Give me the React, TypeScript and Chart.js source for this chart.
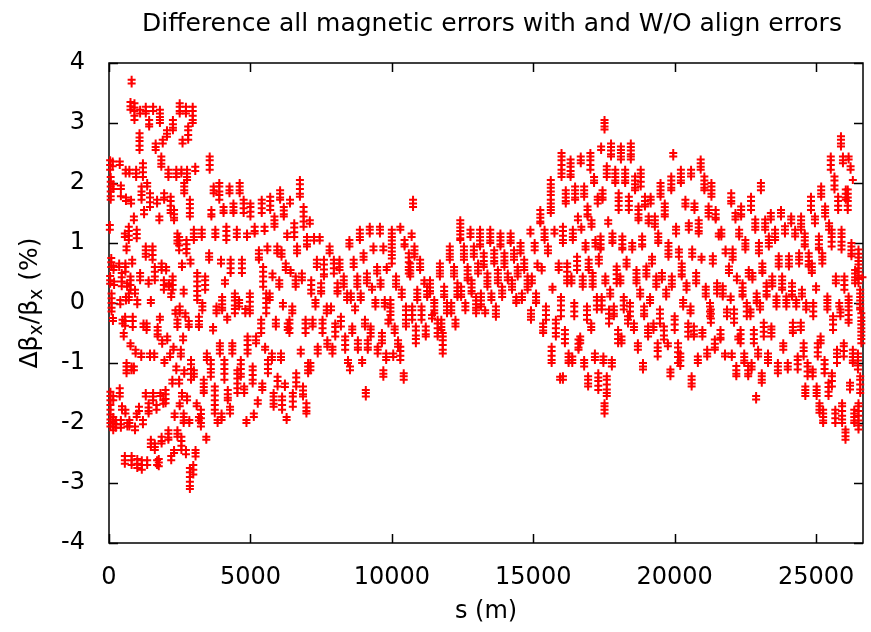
import React, { useEffect, useRef } from "react";
import { Chart, registerables } from "chart.js";

Chart.register(...registerables);

const TITLE = "Difference all magnetic errors with and W/O align errors";
const X_LABEL = "s (m)";
const X_TICKS = [0, 5000, 10000, 15000, 20000, 25000];
const Y_TICKS = [-4, -3, -2, -1, 0, 1, 2, 3, 4];
const X_MAX = 26659;

// Each entry: [s (m), then the Δβx/βx (%) values of one vertical stack of points at that s]
const segA: number[][] = [
  [40, 2.38, 2.3, 2.22], [60, 2.1, 2.02, 1.94, 1.86, 1.78, 1.72], [30, 1.3, 1.22], [80, 0.75, 0.68, 0.6],
  [40, 0.45, 0.38, 0.32], [90, 0.16, 0.08, 0.0, -0.08, -0.14], [130, 2.36, 2.28], [150, 1.98, 1.9],
  [160, 0.62, 0.55], [180, 0.36, 0.3], [140, -0.25, -0.3],
  [50, -1.48, -1.55, -1.62, -1.7, -1.78, -1.86, -1.94, -2.0, -2.06], [150, -1.55, -1.62, -1.9, -1.98, -2.06, -2.12],
  [240, -1.95, -2.02, -2.08],
  [380, 2.36, 2.3], [420, 1.96, 1.9, 1.78], [360, 0.66, 0.6], [450, 0.5, 0.43, 0.36, 0.28], [400, 0.05, -0.02],
  [480, -0.28, -0.34], [520, -0.5, -0.56], [380, -1.42, -1.5, -1.56], [460, -1.72, -1.78], [420, -1.95, -2.02, -2.08],
  [590, 2.22, 2.16], [600, 1.76, 1.7], [560, 1.16, 1.1], [620, 0.94, 0.88], [580, 0.66, 0.6, 0.52], [640, 0.33, 0.27],
  [600, 0.1, 0.04], [570, -0.23, -0.3, -0.38], [620, -1.0, -1.06, -1.12, -1.17], [580, -1.78, -1.84], [650, -2.0, -2.06],
  [560, -2.55, -2.62, -2.68],
  [800, 3.72, 3.66], [760, 3.35, 3.28, 3.22], [720, 2.22, 2.16], [780, 1.72, 1.66], [700, 1.27, 1.2, 1.12, 1.05],
  [820, 0.72, 0.66], [760, 0.44, 0.38, 0.3, 0.22], [700, 0.16, 0.1, 0.05], [840, -0.23, -0.3, -0.4], [760, -0.67, -0.72],
  [800, -1.06, -1.12], [720, -1.95, -2.0, -2.06], [800, -2.55, -2.62, -2.7],
  [900, 3.33, 3.26, 3.2, 3.12, 3.05], [960, 2.22, 2.16, 2.1], [880, 1.44, 1.38], [980, 1.22, 1.15, 1.08], [920, 0.22, 0.16],
  [1000, 0.05, -0.02], [940, -0.78, -0.84], [880, -1.06, -1.12], [980, -1.84, -1.9], [920, -2.06, -2.12],
  [1000, -2.6, -2.68, -2.75],
  [1100, 3.22, 3.16], [1080, 2.83, 2.76, 2.7, 2.62, 2.55], [1200, 2.33, 2.26, 2.18, 2.1], [1150, 1.94, 1.86, 1.8, 1.72],
  [1240, 1.55, 1.48], [1100, 0.5, 0.44, 0.38], [1220, -0.34, -0.4], [1140, -0.84, -0.9], [1060, -1.73, -1.8],
  [1200, -1.95, -2.02], [1160, -2.62, -2.7, -2.78],
  [1300, 3.27, 3.2, 3.16], [1420, 3.05, 2.98, 2.94], [1350, 2.0, 1.94], [1450, 1.83, 1.76, 1.68, 1.6],
  [1300, 0.94, 0.88, 0.82, 0.77], [1400, 0.38, 0.32], [1480, 0.05, 0.0], [1330, -0.34, -0.4, -0.45], [1450, -0.84, -0.9],
  [1300, -1.5, -1.56], [1400, -1.67, -1.74, -1.8, -1.84], [1480, -2.28, -2.34, -2.4], [1350, -2.62, -2.7],
  [1560, 3.27, 3.2], [1650, 2.66, 2.6, 2.55], [1700, 1.72, 1.66], [1540, 0.94, 0.88, 0.8, 0.72], [1620, 0.6, 0.52, 0.44, 0.38],
  [1720, -0.4, -0.46, -0.52, -0.56], [1600, -0.84, -0.9], [1560, -1.5, -1.56, -1.62], [1680, -1.7, -1.78],
  [1620, -2.34, -2.4, -2.45], [1700, -2.62, -2.7],
  [1800, 3.22, 3.16, 3.1, 3.05, 3.0], [1900, 2.72, 2.66], [1850, 2.44, 2.38, 2.32, 2.27], [1950, 1.83, 1.76, 1.72],
  [1780, 1.44, 1.38], [1860, 0.66, 0.6, 0.55], [1940, 0.38, 0.3, 0.22], [1800, -0.23, -0.28], [1880, -0.62, -0.68],
  [1960, -0.95, -1.0], [1820, -1.5, -1.55], [1920, -1.62, -1.68], [1860, -2.23, -2.3, -2.34], [1760, -2.6, -2.66, -2.72],
  [2050, 2.88, 2.82, 2.77], [2100, 2.22, 2.16, 2.1], [2180, 1.77, 1.7, 1.62, 1.55, 1.5], [2020, 0.6, 0.54], [2120, 0.33, 0.27],
  [2200, 0.16, 0.1], [2060, -0.56, -0.62], [2160, -0.84, -0.9], [2000, -1.45, -1.52, -1.6, -1.67],
  [2100, -2.12, -2.18, -2.24, -2.28], [2200, -2.55, -2.62],
  [2260, 3.05, 2.98, 2.92, 2.88], [2380, 2.22, 2.16, 2.1], [2300, 1.55, 1.48, 1.42, 1.38], [2420, 1.16, 1.1, 1.04, 0.99],
  [2250, 0.44, 0.38, 0.3, 0.22], [2350, -0.12, -0.18], [2420, -0.28, -0.34, -0.4], [2280, -0.73, -0.78], [2380, -1.06, -1.12],
  [2240, -1.28, -1.34], [2320, -1.84, -1.9], [2420, -2.12, -2.18, -2.23], [2300, -2.45, -2.5],
  [2500, 3.33, 3.27, 3.2, 3.16], [2600, 2.72, 2.66], [2560, 2.22, 2.16], [2660, 2.0, 1.94, 1.88, 1.83],
  [2480, 1.1, 1.04, 0.96, 0.88], [2580, 0.66, 0.6], [2640, 0.22, 0.16], [2500, -0.06, -0.12, -0.17], [2620, -0.56, -0.62],
  [2540, -0.78, -0.84, -0.89], [2660, -1.12, -1.18], [2480, -1.28, -1.34], [2580, -1.5, -1.56], [2500, -1.67, -1.72],
  [2640, -1.84, -1.9, -1.96, -2.0], [2560, -2.23, -2.3, -2.38, -2.45],
  [2720, 3.27, 3.2, 3.16], [2800, 2.94, 2.88, 2.8, 2.72], [2760, 2.22, 2.16, 2.1, 2.05], [2860, 1.72, 1.65, 1.58, 1.5, 1.44],
  [2740, 1.05, 0.98, 0.9, 0.83], [2880, 0.72, 0.66], [2700, -0.17, -0.23], [2820, -0.3, -0.36, -0.4],
  [2900, -0.95, -1.02, -1.1, -1.18, -1.28], [2760, -1.56, -1.62], [2840, -1.95, -2.0], [2720, -2.45, -2.52],
  [2860, -2.75, -2.82, -2.9, -2.98, -3.05, -3.1],
  [2960, 3.27, 3.2, 3.12, 3.05, 3.0], [3050, 2.27, 2.2], [3000, 1.22, 1.16, 1.1, 1.05],
  [3120, 0.5, 0.44, 0.36, 0.28, 0.2, 0.12, 0.05], [3180, -0.23, -0.3, -0.36, -0.4], [3000, -1.12, -1.18, -1.23],
  [3100, -1.67, -1.72], [3180, -1.9, -1.96], [3060, -2.45, -2.5, -2.56], [2980, -2.7, -2.78, -2.86],
  [3280, 1.22, 1.16, 1.1], [3400, 0.44, 0.38, 0.3, 0.22], [3300, 0.0, -0.06, -0.12], [3460, -0.84, -0.9, -0.95],
  [3350, -1.28, -1.34, -1.4, -1.46, -1.5], [3250, -1.78, -1.85, -1.92, -2.0, -2.06], [3440, -2.23, -2.28],
  [3560, 2.44, 2.38, 2.3, 2.22], [3700, 1.94, 1.88, 1.83], [3620, 1.55, 1.48, 1.44], [3760, 1.22, 1.16, 1.1],
  [3540, 0.83, 0.77, 0.72], [3800, -0.06, -0.12, -0.17], [3680, -0.4, -0.46], [3600, -0.95, -1.02, -1.1, -1.16, -1.23],
  [3740, -1.39, -1.46, -1.54, -1.62, -1.7, -1.78, -1.84], [3840, -1.95, -2.0],
  [3900, 2.0, 1.94, 1.86, 1.8, 1.72], [4050, 1.6, 1.54, 1.5], [4150, 1.27, 1.2, 1.12, 1.05], [3960, 0.72, 0.66],
  [4100, 0.38, 0.32], [4000, 0.1, 0.04, -0.02, -0.08, -0.12], [4180, -0.23, -0.28], [3920, -0.67, -0.72, -0.78, -0.84],
  [4080, -0.95, -1.02, -1.1, -1.18, -1.28], [4200, -1.45, -1.52, -1.58, -1.62], [3980, -1.84, -1.9, -1.95],
  [4260, 1.94, 1.88, 1.83], [4400, 1.66, 1.6, 1.54, 1.5], [4520, 1.22, 1.16, 1.1], [4300, 0.72, 0.66, 0.58, 0.5],
  [4450, 0.16, 0.1, 0.04, -0.04, -0.1, -0.17], [4360, -0.67, -0.72, -0.78, -0.84],
  [4540, -1.12, -1.18, -1.26, -1.34, -1.42, -1.5], [4280, -1.73, -1.78, -1.84],
  [4620, 2.0, 1.94, 1.88, 1.83], [4760, 1.72, 1.66, 1.58, 1.5], [4880, 1.16, 1.1], [4700, 0.72, 0.66, 0.58, 0.5],
  [4600, 0.05, 0.0, -0.06], [4820, -0.1, -0.17], [4900, -0.56, -0.62, -0.7, -0.78, -0.84],
  [4660, -0.95, -1.02, -1.1, -1.18, -1.23], [4780, -1.39, -1.44, -1.5], [4860, -1.95, -2.0],
  [5000, 1.66, 1.6, 1.52, 1.44], [5150, 1.27, 1.2, 1.16], [5300, 0.88, 0.82, 0.76, 0.72],
  [4980, 0.16, 0.1, 0.02, -0.06, -0.12, -0.17], [5200, -0.56, -0.62, -0.67], [5080, -1.06, -1.12, -1.2, -1.28, -1.34],
  [5260, -1.62, -1.68], [5120, -1.84, -1.9],
];

const segB: number[][] = [
  [5400, 1.72, 1.66, 1.58, 1.5], [5500, 1.27, 1.2], [5600, 0.94, 0.88], [5450, 0.6, 0.52, 0.44, 0.36, 0.27],
  [5560, 0.16, 0.08, 0.0, -0.08, -0.17], [5380, -0.28, -0.34, -0.42, -0.5], [5520, -0.73, -0.78],
  [5620, -0.95, -1.02, -1.1, -1.17], [5420, -1.34, -1.4, -1.45],
  [5700, 1.77, 1.7, 1.62, 1.55], [5850, 1.44, 1.38, 1.32, 1.27], [5950, 0.94, 0.88, 0.83], [5780, 0.49, 0.43],
  [5680, 0.16, 0.1, 0.05], [5900, -0.28, -0.34, -0.39], [5760, -0.84, -0.9, -0.95], [5960, -1.23, -1.3, -1.39],
  [5820, -1.5, -1.56, -1.62, -1.68, -1.73],
  [6050, 1.88, 1.82, 1.76, 1.72], [6180, 1.6, 1.54, 1.48, 1.44], [6300, 1.16, 1.1], [6100, 0.88, 0.82, 0.77],
  [6250, 0.66, 0.6, 0.55], [6020, 0.38, 0.32, 0.27], [6150, 0.0, -0.06], [6320, -0.34, -0.4, -0.45],
  [6080, -0.84, -0.9, -0.95], [6220, -1.34, -1.4], [6120, -1.56, -1.62, -1.7, -1.78], [6280, -1.9, -1.95],
  [6400, 1.72, 1.66], [6550, 1.33, 1.26, 1.18, 1.1], [6650, 0.94, 0.88, 0.83], [6420, 0.55, 0.5],
  [6600, 0.44, 0.38, 0.32, 0.27], [6480, -0.06, -0.12, -0.17], [6380, -0.28, -0.34, -0.42, -0.5],
  [6620, -1.17, -1.24, -1.32, -1.39], [6500, -1.5, -1.56, -1.64, -1.73],
  [6750, 2.05, 1.98, 1.9, 1.82, 1.77], [6880, 1.6, 1.52, 1.44, 1.36, 1.27], [7000, 1.1, 1.04, 0.98, 0.94],
  [6820, 0.49, 0.43, 0.38], [6950, -0.28, -0.34, -0.42, -0.5], [6780, -0.78, -0.84], [7040, -1.0, -1.06, -1.12, -1.17],
  [6860, -1.39, -1.46, -1.52, -1.56], [6980, -1.67, -1.74, -1.8, -1.84],
  [7100, 1.38, 1.32], [7250, 1.1, 1.04], [7350, 0.72, 0.66, 0.6], [7150, 0.38, 0.3, 0.22, 0.16], [7300, 0.05, 0.0, -0.06],
  [7200, -0.28, -0.34, -0.39], [7380, -0.73, -0.78, -0.84], [7120, -1.0, -1.06, -1.12],
  [7450, 1.1, 1.04], [7600, 0.72, 0.64, 0.56, 0.48, 0.44], [7500, 0.33, 0.26, 0.2, 0.16], [7700, -0.06, -0.12, -0.17],
  [7550, -0.28, -0.34, -0.42, -0.5], [7720, -0.62, -0.68, -0.73],
  [7800, 0.94, 0.88, 0.83], [7950, 0.72, 0.66, 0.58, 0.49], [8080, 0.33, 0.26, 0.2, 0.16], [7850, -0.06, -0.12],
  [8000, -0.34, -0.4, -0.48, -0.56], [7900, -0.73, -0.78, -0.84],
  [8150, 0.72, 0.66, 0.6, 0.55], [8300, 0.44, 0.38, 0.32, 0.27], [8420, 0.16, 0.1, 0.05], [8200, -0.23, -0.3, -0.39],
  [8350, -0.56, -0.62, -0.7, -0.78], [8450, -0.95, -1.0],
  [8500, 1.05, 0.99, 0.94], [8650, 0.72, 0.66, 0.6], [8780, 0.44, 0.38, 0.32, 0.27], [8550, 0.16, 0.1, 0.05],
  [8700, -0.06, -0.12], [8600, -0.39, -0.44, -0.5], [8800, -0.62, -0.68, -0.74, -0.78], [8520, -1.06, -1.12],
  [8870, 1.22, 1.16, 1.1, 1.05], [9000, 0.83, 0.77, 0.72], [9120, 0.49, 0.43, 0.38, 0.33], [8900, 0.16, 0.1, 0.05],
  [9050, -0.28, -0.34, -0.39], [9150, -0.62, -0.68, -0.74, -0.78], [8950, -0.95, -1.0], [9080, -1.45, -1.5, -1.56],
  [9220, 1.27, 1.22, 1.16], [9350, 0.94, 0.88], [9480, 0.6, 0.54, 0.49], [9300, 0.27, 0.22], [9420, 0.05, 0.0, -0.06],
  [9250, -0.39, -0.44, -0.5, -0.56], [9500, -0.73, -0.78, -0.84],
  [9580, 1.27, 1.22, 1.16], [9700, 0.94, 0.88], [9820, 0.6, 0.55], [9600, 0.38, 0.32, 0.27], [9750, 0.05, 0.0, -0.06],
  [9880, -0.28, -0.34], [9650, -0.5, -0.56, -0.62, -0.67], [9800, -0.84, -0.9, -0.95], [9700, -1.12, -1.18, -1.23],
  [10000, 1.22, 1.16, 1.1, 1.04, 0.98, 0.92, 0.86, 0.8, 0.74, 0.66], [10150, 0.44, 0.38, 0.32, 0.27],
  [9950, 0.05, -0.02, -0.08, -0.14, -0.2, -0.28], [10100, -0.39, -0.44, -0.5], [10220, -0.62, -0.68, -0.73],
  [10050, -0.84, -0.9],
  [10300, 1.27, 1.22], [10450, 1.05, 0.98, 0.94], [10600, 0.83, 0.76, 0.68, 0.6, 0.55, 0.49], [10350, 0.22, 0.16, 0.1],
  [10500, -0.06, -0.12, -0.2, -0.28, -0.34, -0.39], [10300, -0.73, -0.8, -0.88, -0.95], [10420, -1.17, -1.22, -1.28],
];

const segC: number[][] = [
  [10750, 1.72, 1.66, 1.6], [10700, 1.16, 1.1], [10800, 0.94, 0.88, 0.82, 0.77], [10650, 0.66, 0.6, 0.54, 0.49, 0.44],
  [10900, 0.22, 0.16, 0.1, 0.05], [10720, -0.06, -0.12, -0.2, -0.28], [10850, -0.39, -0.46, -0.54, -0.6, -0.67],
  [11000, 0.72, 0.66, 0.6, 0.55], [11150, 0.38, 0.32], [11250, 0.27, 0.2, 0.14, 0.1], [11050, -0.06, -0.12, -0.2, -0.28],
  [11200, -0.39, -0.46, -0.52, -0.56],
  [11350, 0.38, 0.32, 0.26, 0.2, 0.16], [11500, 0.05, 0.0, -0.06, -0.12, -0.17], [11620, -0.28, -0.34, -0.42, -0.5, -0.56],
  [11420, -0.2, -0.26],
  [11700, 0.66, 0.6, 0.54, 0.49, 0.44], [11850, 0.27, 0.2, 0.14, 0.1], [11950, 0.0, -0.06, -0.12, -0.17],
  [11750, -0.28, -0.34, -0.4, -0.45], [11800, -0.5, -0.56, -0.62, -0.7, -0.78, -0.84],
  [12050, 0.94, 0.88, 0.82, 0.77, 0.72], [12200, 0.6, 0.54, 0.49, 0.44], [12320, 0.33, 0.26, 0.2, 0.14, 0.1],
  [12100, 0.0, -0.06, -0.12, -0.17], [12250, -0.28, -0.34, -0.39],
  [12420, 1.38, 1.32, 1.26, 1.2, 1.14, 1.08, 1.05], [12550, 0.94, 0.88, 0.82, 0.77, 0.72], [12680, 0.6, 0.54, 0.48, 0.42, 0.38],
  [12450, 0.27, 0.2, 0.14, 0.1], [12600, 0.0, -0.06, -0.12],
  [12780, 1.22, 1.16, 1.1], [12900, 0.94, 0.88, 0.82, 0.77], [13050, 0.66, 0.6, 0.54, 0.49], [12820, 0.38, 0.32, 0.26, 0.2, 0.16],
  [12980, 0.1, 0.04, -0.02, -0.08, -0.12, -0.17],
  [13120, 1.22, 1.16, 1.1, 1.04, 0.98, 0.94], [13250, 0.83, 0.77, 0.7, 0.64, 0.6], [13380, 0.49, 0.43, 0.37, 0.32, 0.27],
  [13150, 0.16, 0.1, 0.04, -0.02, -0.06], [13300, -0.17, -0.12],
  [13480, 1.22, 1.16, 1.1, 1.04, 1.0], [13620, 0.88, 0.82, 0.76, 0.7, 0.66], [13750, 0.55, 0.49, 0.43, 0.38, 0.33],
  [13520, 0.16, 0.1, 0.05], [13680, -0.06, -0.12, -0.18, -0.23],
  [13840, 1.16, 1.1, 1.04, 0.98, 0.94], [13980, 0.83, 0.77, 0.71, 0.66, 0.6], [14100, 0.49, 0.43, 0.38], [13900, 0.27, 0.21, 0.16, 0.1],
  [14200, 1.16, 1.1, 1.04, 1.0], [14320, 0.88, 0.82, 0.77, 0.72], [14450, 0.6, 0.54, 0.49, 0.44], [14250, 0.38, 0.32, 0.27, 0.22],
  [14400, 0.1, 0.04, 0.0],
  [14550, 1.0, 0.94, 0.88, 0.83], [14680, 0.72, 0.66, 0.6, 0.55], [14800, 0.44, 0.38, 0.32, 0.27, 0.22], [14600, 0.16, 0.1, 0.05],
  [14900, 1.22, 1.16], [15050, 1.0, 0.94, 0.88], [15150, 0.66, 0.6], [14950, 0.44, 0.38, 0.33], [15100, 0.16, 0.1, 0.04, 0.0],
  [14920, -0.12, -0.18, -0.23, -0.28],
  [15250, 1.55, 1.48, 1.42, 1.36, 1.33], [15400, 1.22, 1.16, 1.1, 1.05], [15520, 0.94, 0.88, 0.83], [15300, 0.6, 0.54],
  [15450, -0.06, -0.12, -0.2, -0.28], [15350, -0.34, -0.4, -0.46, -0.5],
  [15620, 2.05, 1.98, 1.92, 1.86, 1.8, 1.72, 1.66, 1.6, 1.55, 1.5], [15750, 1.22, 1.16], [15900, 0.66, 0.6, 0.55],
  [15680, 0.27, 0.22], [15800, -0.28, -0.34, -0.42, -0.5, -0.56], [15650, -0.73, -0.8, -0.88, -0.95, -1.0], [15950, -1.23, -1.28],
];

const segD: number[][] = [
  [16000, 2.5, 2.44, 2.38, 2.3, 2.22, 2.16, 2.1], [16150, 1.88, 1.82, 1.76, 1.7, 1.66], [16050, 1.27, 1.2, 1.12, 1.05, 1.0],
  [16200, 0.66, 0.6, 0.52, 0.44, 0.38, 0.33], [15980, 0.1, 0.04, -0.04, -0.12, -0.22], [16120, -0.45, -0.52, -0.6, -0.67],
  [16250, -0.84, -0.9, -0.96, -1.0], [16050, -1.22, -1.28],
  [16320, 2.39, 2.33, 2.27, 2.2, 2.14, 2.1], [16480, 1.94, 1.88, 1.82, 1.76, 1.72], [16580, 1.44, 1.38],
  [16400, 1.22, 1.16, 1.1, 1.05], [16550, 0.77, 0.7, 0.62, 0.55], [16350, 0.44, 0.38, 0.33], [16450, 0.0, -0.06, -0.14, -0.22],
  [16600, -0.61, -0.68, -0.74, -0.78], [16380, -0.89, -0.95, -1.0],
  [16680, 2.44, 2.38, 2.33], [16800, 1.94, 1.88, 1.82, 1.77], [16920, 1.61, 1.55, 1.48, 1.44], [16700, 1.27, 1.22],
  [16850, 1.0, 0.94, 0.89], [16960, 0.72, 0.66, 0.6, 0.55], [16750, 0.44, 0.38, 0.32, 0.27], [16900, -0.06, -0.12, -0.2, -0.28],
  [16660, -0.56, -0.62, -0.67], [16800, -0.95, -1.0, -1.06], [16940, -1.22, -1.28, -1.34, -1.39],
  [17020, 2.5, 2.44, 2.38, 2.3, 2.22], [17150, 2.1, 2.04, 2.0], [17280, 1.77, 1.72, 1.66], [17060, 1.38, 1.32, 1.27],
  [17200, 1.05, 1.0, 0.94], [17320, 0.77, 0.72, 0.66], [17100, 0.5, 0.44, 0.38, 0.32, 0.27], [17250, 0.1, 0.04, -0.04, -0.11],
  [17050, -0.34, -0.4, -0.45], [17180, -0.84, -0.9, -0.95], [17300, -1.17, -1.24, -1.3, -1.38, -1.45],
  [17520, 3.05, 3.0, 2.94, 2.89], [17400, 2.61, 2.55], [17600, 2.28, 2.22, 2.16, 2.1], [17450, 1.88, 1.82, 1.76, 1.72],
  [17650, 1.38, 1.32], [17380, 1.11, 1.05, 0.98, 0.92, 0.89], [17550, 0.44, 0.38, 0.33], [17420, 0.1, 0.04, -0.04, -0.11],
  [17680, -0.11, -0.18, -0.26, -0.34], [17480, -0.89, -0.95, -1.0], [17600, -1.22, -1.28, -1.36, -1.44, -1.5, -1.55],
  [17520, -1.67, -1.72, -1.78, -1.84],
  [17750, 2.66, 2.6, 2.54, 2.48, 2.44], [17900, 2.22, 2.16, 2.1, 2.04, 2.0], [18020, 1.83, 1.76, 1.7, 1.62, 1.55],
  [17800, 1.16, 1.1, 1.04, 1.0], [17950, 0.61, 0.55, 0.48, 0.4, 0.33], [17720, 0.22, 0.16, 0.11],
  [17850, -0.06, -0.12, -0.18, -0.22], [18000, -0.45, -0.52, -0.6, -0.67], [17780, -0.95, -1.0, -1.06],
  [18100, 2.61, 2.55, 2.5, 2.44, 2.39], [18250, 2.22, 2.16, 2.1, 2.04, 2.0], [18380, 1.77, 1.7, 1.62, 1.55],
  [18150, 1.11, 1.05, 0.98, 0.92, 0.89], [18300, 0.72, 0.66, 0.61], [18080, 0.44, 0.38, 0.33], [18200, 0.1, 0.04, -0.04, -0.11],
  [18350, -0.22, -0.28, -0.34], [18120, -0.56, -0.62, -0.67],
  [18450, 2.66, 2.6, 2.54, 2.48, 2.44, 2.39], [18600, 2.11, 2.04, 1.98, 1.92, 1.88], [18720, 1.61, 1.55, 1.48, 1.42, 1.38],
  [18500, 1.0, 0.94, 0.89], [18650, 0.55, 0.49, 0.43, 0.38, 0.33], [18420, 0.0, -0.06, -0.14, -0.22], [18560, -0.34, -0.4, -0.45],
  [18700, -0.67, -0.72, -0.78],
  [18800, 2.22, 2.16, 2.1, 2.02, 1.94], [18950, 1.77, 1.7, 1.64, 1.61], [19080, 1.44, 1.38, 1.33], [18850, 1.11, 1.05, 0.98, 0.94],
  [19000, 0.61, 0.55, 0.49, 0.44], [18780, 0.22, 0.16, 0.11], [18920, -0.06, -0.12, -0.18, -0.22],
  [19060, -0.39, -0.45, -0.5, -0.56], [18880, -1.0, -1.06, -1.11],
  [19150, 1.77, 1.72, 1.66], [19300, 1.44, 1.38, 1.32, 1.27], [19420, 1.16, 1.1, 1.04, 1.0], [19200, 0.77, 0.72, 0.66],
  [19350, 0.44, 0.38, 0.32, 0.27], [19130, 0.1, 0.05, 0.0], [19250, -0.34, -0.4, -0.45], [19400, -0.67, -0.74, -0.8, -0.89],
  [19500, 2.0, 1.94, 1.88, 1.82, 1.77], [19650, 1.66, 1.6, 1.54, 1.48, 1.44], [19780, 1.0, 0.94, 0.88, 0.82, 0.77],
  [19550, 0.5, 0.44, 0.39], [19700, 0.22, 0.16, 0.11], [19480, -0.11, -0.18, -0.26, -0.34], [19620, -0.39, -0.46, -0.54, -0.61],
  [19760, -0.67, -0.72],
  [19950, 2.5, 2.44], [19880, 2.11, 2.04, 1.98, 1.92, 1.88], [20050, 1.27, 1.22, 1.16], [20150, 0.89, 0.84, 0.77],
  [19900, 0.44, 0.38, 0.32, 0.27], [20000, -0.22, -0.28, -0.36, -0.45], [20120, -0.67, -0.74, -0.82, -0.9, -1.0],
  [19850, -1.11, -1.16, -1.22],
  [20220, 2.22, 2.16, 2.1, 2.04, 2.0], [20380, 1.72, 1.66, 1.61], [20500, 1.33, 1.28, 1.22], [20250, 0.66, 0.6, 0.54, 0.48, 0.44],
  [20420, 0.33, 0.28, 0.22], [20300, 0.05, 0.0, -0.06], [20480, -0.34, -0.4, -0.48, -0.56], [20200, -0.84, -0.9, -0.96, -1.05],
  [20580, 2.22, 2.16, 2.11], [20700, 1.66, 1.6, 1.55], [20850, 1.38, 1.32, 1.26, 1.2, 1.16], [20620, 0.89, 0.83, 0.77],
  [20760, 0.5, 0.44, 0.38, 0.33], [20560, -0.06, -0.12, -0.17], [20680, -0.39, -0.46, -0.52, -0.56], [20820, -0.89, -0.95, -1.0],
  [20600, -1.22, -1.28, -1.34, -1.39],
  [20920, 2.39, 2.33, 2.27, 2.22], [21050, 2.11, 2.04, 1.98, 1.92, 1.88], [21200, 1.61, 1.55, 1.5, 1.44], [20950, 0.77, 0.72],
  [21100, 0.27, 0.22, 0.16, 0.11], [21250, 0.0, -0.06, -0.14, -0.22], [20980, -0.45, -0.5, -0.56], [21150, -0.78, -0.84, -0.89],
];

const segE: number[][] = [
  [21300, 2.0, 1.94, 1.88, 1.82, 1.77], [21450, 1.55, 1.48, 1.42, 1.39], [21560, 1.16, 1.11], [21350, 0.78, 0.72, 0.66],
  [21500, 0.33, 0.27, 0.22, 0.16], [21280, -0.11, -0.18, -0.26, -0.33], [21420, -0.61, -0.68, -0.74, -0.78],
  [21650, 1.22, 1.16, 1.11], [21800, 0.89, 0.83], [21920, 0.61, 0.55, 0.5], [21700, 0.28, 0.22, 0.16, 0.11],
  [21850, -0.11, -0.16, -0.22], [21620, -0.45, -0.52, -0.58, -0.61], [21780, -0.84, -0.89],
  [22000, 1.83, 1.76, 1.7, 1.66], [22150, 1.5, 1.44, 1.39], [22280, 1.22, 1.16, 1.11], [22050, 0.89, 0.83, 0.77, 0.72],
  [22200, 0.44, 0.38], [21980, 0.11, 0.05], [22100, -0.11, -0.18, -0.26, -0.33], [22250, -0.56, -0.61], [22020, -0.84, -0.9],
  [22180, -1.05, -1.12, -1.18, -1.22],
  [22350, 1.61, 1.55, 1.48, 1.44], [22500, 1.05, 0.99, 0.94, 0.89], [22620, 0.55, 0.5, 0.44], [22400, 0.33, 0.26, 0.2, 0.14, 0.11],
  [22550, 0.0, -0.06, -0.14, -0.22], [22330, -0.45, -0.52, -0.6, -0.67], [22460, -0.84, -0.9, -0.96, -1.0],
  [22600, -1.05, -1.12, -1.18, -1.22],
  [22700, 1.77, 1.7, 1.62, 1.55], [22850, 1.39, 1.33, 1.27, 1.22], [22980, 1.0, 0.94, 0.88, 0.83], [22750, 0.5, 0.44, 0.39],
  [22900, 0.16, 0.1, 0.04, 0.0], [22680, -0.11, -0.16, -0.22], [22800, -0.45, -0.52, -0.6, -0.67], [22950, -0.78, -0.84, -0.89],
  [22720, -1.0, -1.06, -1.11], [22880, -1.55, -1.61],
  [23050, 2.0, 1.94, 1.88], [23200, 1.39, 1.33, 1.27, 1.22], [23330, 1.11, 1.05, 1.0, 0.94], [23100, 0.66, 0.6, 0.54, 0.5],
  [23250, 0.33, 0.27, 0.2, 0.14, 0.11], [23020, 0.0, -0.06, -0.11], [23150, -0.33, -0.4, -0.48, -0.56],
  [23300, -0.84, -0.9, -0.95, -1.0], [23080, -1.17, -1.22, -1.28, -1.33],
  [23400, 1.5, 1.44, 1.39], [23550, 1.22, 1.16, 1.1, 1.05], [23680, 0.78, 0.72, 0.66, 0.61], [23450, 0.44, 0.38, 0.33, 0.28],
  [23600, 0.11, 0.05, 0.0, -0.06], [23420, -0.39, -0.44, -0.5, -0.56], [23650, -1.0, -1.06, -1.12, -1.17],
  [23760, 1.55, 1.5, 1.44], [23900, 1.28, 1.22, 1.16], [24040, 0.78, 0.72, 0.66, 0.61], [23800, 0.44, 0.38, 0.32, 0.26, 0.22],
  [23950, 0.11, 0.05, 0.0, -0.06], [23840, -0.67, -0.72, -0.78], [24000, -1.0, -1.06, -1.11],
  [24120, 1.44, 1.39, 1.33], [24260, 1.22, 1.16, 1.11], [24400, 0.83, 0.77, 0.72, 0.66], [24150, 0.33, 0.27, 0.2, 0.14, 0.11],
  [24300, 0.05, 0.0, -0.06], [24180, -0.33, -0.4, -0.46, -0.5], [24350, -0.89, -0.95, -1.02, -1.11],
  [24470, 1.44, 1.38, 1.32, 1.27, 1.22], [24600, 1.16, 1.1, 1.04, 0.98, 0.94], [24740, 0.83, 0.77, 0.7, 0.64, 0.61],
  [24500, 0.22, 0.16, 0.11], [24650, 0.0, -0.06, -0.11], [24460, -0.33, -0.39, -0.45], [24560, -0.67, -0.74, -0.8, -0.89],
  [24700, -1.0, -1.06, -1.14, -1.22], [24620, -1.39, -1.45, -1.5, -1.55],
  [24820, 1.77, 1.7, 1.62, 1.55], [24960, 1.44, 1.39, 1.33], [25100, 1.11, 1.05, 0.98, 0.92, 0.89], [24850, 0.66, 0.6, 0.54, 0.5],
  [25000, 0.28, 0.22], [24900, 0.0, -0.06, -0.14, -0.22], [25060, -0.67, -0.74, -0.82, -0.89], [24880, -1.11, -1.16, -1.22],
  [25020, -1.39, -1.45, -1.5, -1.55], [25120, -1.67, -1.72, -1.78, -1.83],
  [25180, 1.94, 1.88, 1.82, 1.77], [25320, 1.61, 1.55, 1.5, 1.44], [25460, 1.33, 1.28, 1.22], [25220, 0.83, 0.77, 0.72, 0.66],
  [25400, 0.11, 0.05, 0.0, -0.06, -0.11], [25160, -0.56, -0.62, -0.67], [25300, -0.95, -1.02, -1.1, -1.17],
  [25440, -1.33, -1.4, -1.48, -1.55], [25250, -1.78, -1.84, -1.9, -1.96, -2.0],
  [25520, 2.44, 2.38, 2.3, 2.22], [25650, 2.11, 2.04, 1.96, 1.89], [25780, 1.77, 1.7, 1.62, 1.55],
  [25550, 1.22, 1.16, 1.1, 1.02, 0.94], [25700, 0.44, 0.38, 0.33], [25820, 0.0, -0.06], [25600, -0.22, -0.28, -0.36, -0.45],
  [25740, -0.78, -0.84, -0.9, -1.0], [25560, -1.17, -1.22, -1.3, -1.39], [25680, -1.78, -1.84, -1.92, -2.0],
  [25880, 2.78, 2.72, 2.66, 2.61], [25950, 2.44, 2.38, 2.33], [26050, 1.89, 1.82, 1.76, 1.72],
  [25900, 1.22, 1.16, 1.1, 1.02, 0.96, 0.89], [26000, 0.44, 0.38, 0.3, 0.22], [25860, -0.11, -0.16, -0.22],
  [25980, -0.67, -0.72, -0.8, -0.89], [25920, -1.67, -1.72, -1.8, -1.88, -1.94, -2.0], [26040, -2.11, -2.16, -2.22, -2.28],
  [26150, 2.44, 2.39], [26220, 2.28, 2.22], [26300, 2.05], [26120, 1.89, 1.82, 1.76, 1.7, 1.62, 1.55],
  [26250, 1.0, 0.94, 0.88, 0.82, 0.78], [26380, 0.55, 0.49, 0.43, 0.38, 0.33],
  [26150, 0.11, 0.05, 0.0, -0.06, -0.12, -0.2, -0.28, -0.33], [26300, -0.78, -0.84, -0.9, -0.96, -1.0],
  [26200, -1.33, -1.38, -1.44], [26350, -1.78, -1.84, -1.9, -1.96, -2.0],
  [26500, 0.89, 0.82, 0.76, 0.7, 0.64, 0.58, 0.52, 0.46, 0.4, 0.33], [26560, 0.22, 0.16, 0.1, 0.04, -0.02, -0.08, -0.11],
  [26600, -0.17, -0.24, -0.3, -0.36, -0.42, -0.48, -0.54, -0.6, -0.67], [26480, -0.84, -0.9, -0.96, -1.04, -1.11],
  [26560, -1.22, -1.28, -1.36, -1.44, -1.5], [26500, -1.67, -1.72, -1.8, -1.88, -1.96, -2.04, -2.11], [26640, 0.43],
];

const FONT = "'DejaVu Sans', 'Liberation Sans', sans-serif";

function toPoints(...segs: number[][][]) {
  const pts: { x: number; y: number }[] = [];
  segs.forEach((seg) =>
    seg.forEach((col) => {
      for (let i = 1; i < col.length; i++) pts.push({ x: col[0], y: col[i] });
    })
  );
  return pts;
}

const framePlugin = {
  id: "gnuFrame",
  beforeDatasetsDraw(chart: any) {
    const { ctx, chartArea: a, scales } = chart;
    ctx.save();
    ctx.strokeStyle = "#000";
    ctx.lineWidth = 1.5;
    ctx.strokeRect(a.left, a.top, a.right - a.left, a.bottom - a.top);
    const tl = 9;
    ctx.beginPath();
    X_TICKS.forEach((v) => {
      const x = Math.round(scales.x.getPixelForValue(v)) + 0.5;
      ctx.moveTo(x, a.bottom);
      ctx.lineTo(x, a.bottom - tl);
      ctx.moveTo(x, a.top);
      ctx.lineTo(x, a.top + tl);
    });
    Y_TICKS.forEach((v) => {
      const y = Math.round(scales.y.getPixelForValue(v)) + 0.5;
      ctx.moveTo(a.left, y);
      ctx.lineTo(a.left + tl, y);
      ctx.moveTo(a.right, y);
      ctx.lineTo(a.right - tl, y);
    });
    ctx.stroke();
    ctx.restore();
  },
  afterDraw(chart: any) {
    const { ctx, chartArea: a } = chart;
    const cx = (a.left + a.right) / 2;
    ctx.save();
    ctx.fillStyle = "#000";
    ctx.textAlign = "center";
    ctx.textBaseline = "middle";
    ctx.font = `25px ${FONT}`;
    ctx.fillText(TITLE, cx + 6, 24);
    ctx.font = `24px ${FONT}`;
    ctx.fillText(X_LABEL, cx, 612);

    // rotated y label with subscripts: Δβx/βx (%)
    const parts: [string, boolean][] = [
      ["Δβ", false], ["x", true], ["/β", false], ["x", true], [" (%)", false],
    ];
    const big = `25px ${FONT}`;
    const small = `19px ${FONT}`;
    let total = 0;
    parts.forEach(([t, sub]) => {
      ctx.font = sub ? small : big;
      total += ctx.measureText(t).width;
    });
    ctx.translate(29, (a.top + a.bottom) / 2);
    ctx.rotate(-Math.PI / 2);
    ctx.textAlign = "left";
    ctx.textBaseline = "alphabetic";
    let x = -total / 2;
    parts.forEach(([t, sub]) => {
      ctx.font = sub ? small : big;
      ctx.fillText(t, x, sub ? 13 : 8);
      x += ctx.measureText(t).width;
    });
    ctx.restore();
  },
};

export default function App() {
  const ref = useRef<HTMLCanvasElement | null>(null);
  useEffect(() => {
    document.body.style.margin = "0";
    const canvas = ref.current;
    if (!canvas) return;
    const chart = new Chart(canvas, {
      type: "scatter",
      data: {
        datasets: [
          {
            data: toPoints(segA, segB, segC, segD, segE),
            pointStyle: "cross",
            pointRadius: 4,
            pointBorderWidth: 2,
            borderColor: "#ff0000",
            backgroundColor: "#ff0000",
            clip: 6,
          } as any,
        ],
      },
      options: {
        animation: false,
        responsive: false,
        events: [],
        layout: { padding: { top: 63, right: 8, left: 0, bottom: 0 } },
        plugins: { legend: { display: false }, title: { display: false }, tooltip: { enabled: false } },
        scales: {
          x: {
            type: "linear",
            min: 0,
            max: X_MAX,
            grid: { display: false },
            border: { display: false },
            afterBuildTicks: (axis: any) => {
              axis.ticks = X_TICKS.map((v) => ({ value: v }));
            },
            afterFit: (axis: any) => {
              axis.height = 89;
            },
            ticks: {
              color: "#000",
              font: { family: FONT, size: 24 },
              padding: 12,
              maxRotation: 0,
              autoSkip: false,
              callback: (v: any) => String(v),
            },
          },
          y: {
            type: "linear",
            min: -4,
            max: 4,
            grid: { display: false },
            border: { display: false },
            afterBuildTicks: (axis: any) => {
              axis.ticks = Y_TICKS.map((v) => ({ value: v }));
            },
            afterFit: (axis: any) => {
              axis.width = 109;
            },
            ticks: {
              color: "#000",
              font: { family: FONT, size: 24 },
              padding: 16,
              autoSkip: false,
              callback: (v: any) => String(v),
            },
          },
        },
      },
      plugins: [framePlugin],
    });
    return () => chart.destroy();
  }, []);
  return (
    <div style={{ width: 871, height: 632, background: "#fff" }}>
      <canvas ref={ref} width={871} height={632} style={{ display: "block" }} />
    </div>
  );
}
